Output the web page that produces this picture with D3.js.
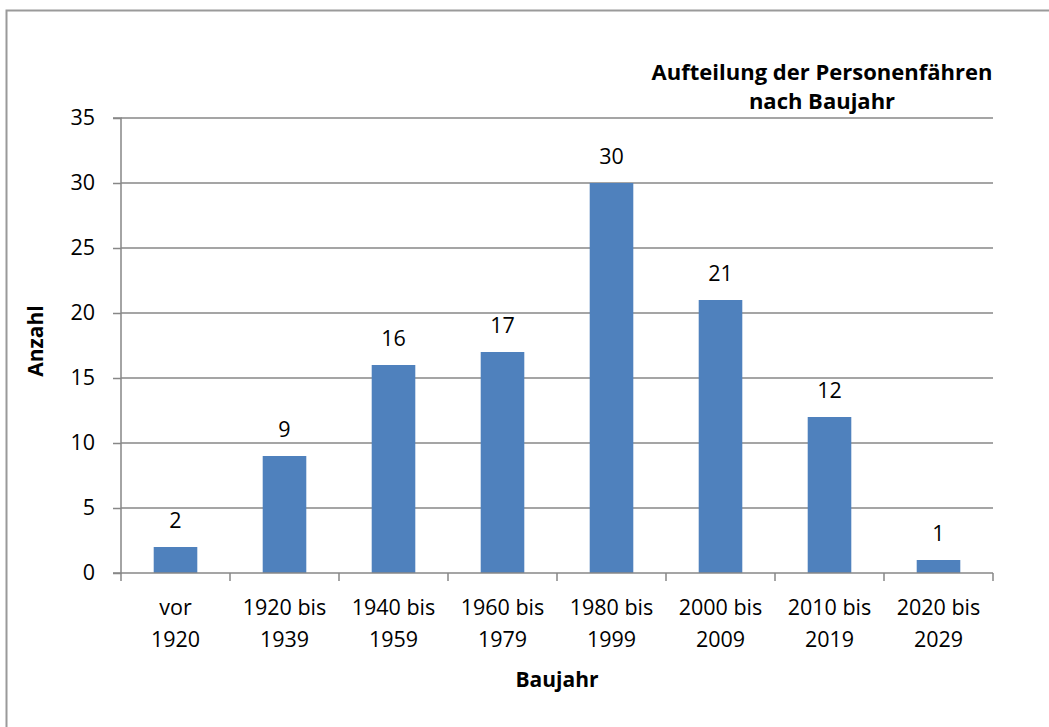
<!DOCTYPE html>
<html><head><meta charset="utf-8">
<script src="https://cdn.jsdelivr.net/npm/d3@7"></script>
<style>body{margin:0;background:#fff}svg{display:block}text{font-family:"Open Sans",sans-serif;fill:#000}</style>
</head><body><svg width="1049" height="727"></svg>
<script>
const categories = [["vor","1920"],["1920 bis","1939"],["1940 bis","1959"],["1960 bis","1979"],["1980 bis","1999"],["2000 bis","2009"],["2010 bis","2019"],["2020 bis","2029"]];
const values = [2, 9, 16, 17, 30, 21, 12, 1];
const yTicks = [0, 5, 10, 15, 20, 25, 30, 35];
const titleLines = ["Aufteilung der Personenfähren", "nach Baujahr"];

const svg = d3.select("svg");
svg.append("rect").attr("x",6.5).attr("y",10.5).attr("width",1200).attr("height",900)
  .attr("fill","none").attr("stroke","#9a9a9a").attr("stroke-width",2);

const L=121, R=993, T=118, B=573;
const FS="21.5px";
const x = d3.scaleBand().domain(categories.map((d,i)=>i)).range([L,R]).paddingInner(0.6).paddingOuter(0.3);
const y = d3.scaleLinear().domain([0,35]).range([B,T]);
const grey="#878787";

// gridlines
svg.append("g").selectAll("line").data(yTicks.filter(t=>t>0)).join("line")
  .attr("x1",L).attr("x2",R).attr("y1",d=>y(d)).attr("y2",d=>y(d))
  .attr("stroke",grey).attr("stroke-width",1.5);

// bars
svg.append("g").selectAll("rect").data(values).join("rect")
  .attr("x",(d,i)=>x(i)).attr("width",x.bandwidth())
  .attr("y",d=>y(d)).attr("height",d=>B-y(d)).attr("fill","#4F81BD");

// y axis
const ya = svg.append("g").attr("transform",`translate(${L},0)`)
  .call(d3.axisLeft(y).tickValues(yTicks).tickSize(8).tickPadding(18));
ya.select(".domain").attr("stroke",grey).attr("stroke-width",1.5).attr("d",`M-8,${T}H0V${B}H-8`);
ya.selectAll(".tick line").attr("stroke",grey).attr("stroke-width",1.5);
ya.selectAll(".tick text").style("font-size",FS).attr("font-family",null);

// x axis
const xa = svg.append("g").attr("transform",`translate(0,${B})`);
xa.append("line").attr("x1",L).attr("x2",R).attr("y1",0).attr("y2",0).attr("stroke",grey).attr("stroke-width",1.5);
const step = x.step();
xa.selectAll(".tk").data(d3.range(categories.length+1)).join("line")
  .attr("x1",i=>L+i*step).attr("x2",i=>L+i*step).attr("y1",0).attr("y2",8)
  .attr("stroke",grey).attr("stroke-width",1.5);
xa.selectAll(".lbl").data(categories).join("text")
  .attr("text-anchor","middle").style("font-size",FS)
  .attr("transform",(d,i)=>`translate(${x(i)+x.bandwidth()/2},0)`)
  .selectAll("tspan").data(d=>d).join("tspan")
  .attr("x",0).attr("y",(d,j)=>42+j*32).text(d=>d);

// value labels
svg.append("g").selectAll("text").data(values).join("text")
  .attr("x",(d,i)=>x(i)+x.bandwidth()/2).attr("y",d=>y(d)-19)
  .attr("text-anchor","middle").style("font-size",FS).text(d=>d);

// titles
svg.append("g").selectAll("text").data(titleLines).join("text")
  .attr("x",822).attr("y",(d,i)=>80+i*29).attr("text-anchor","middle")
  .style("font-size","22px").style("font-weight","bold").text(d=>d);
svg.append("text").attr("x",557).attr("y",687).attr("text-anchor","middle")
  .style("font-size","21px").style("font-weight","bold").text("Baujahr");
svg.append("text").attr("transform","translate(43,341) rotate(-90)").attr("text-anchor","middle")
  .style("font-size","21px").style("font-weight","bold").text("Anzahl");
</script></body></html>
